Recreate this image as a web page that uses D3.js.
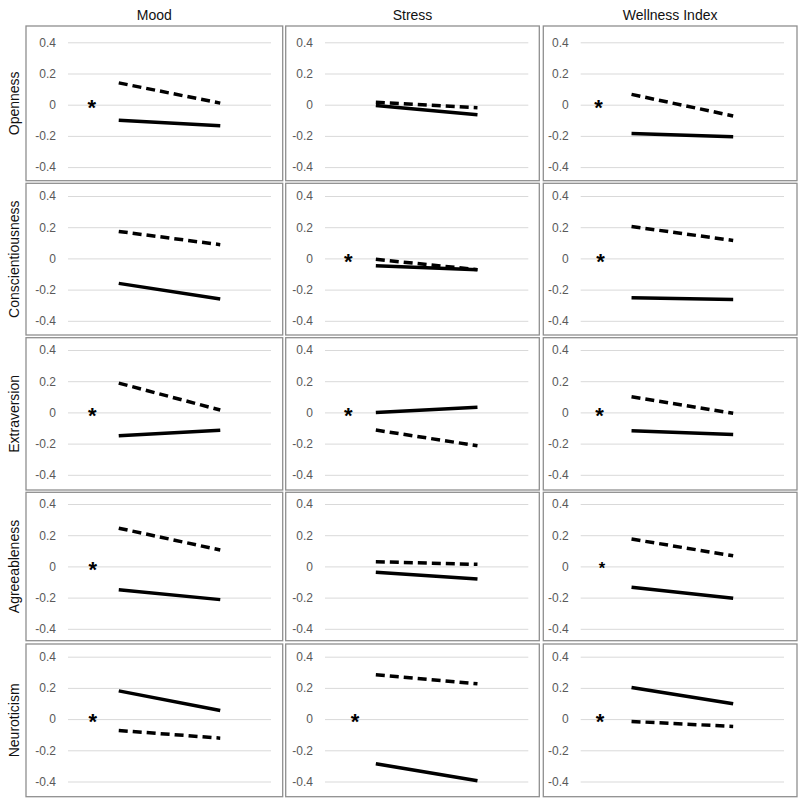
<!DOCTYPE html>
<html>
<head>
<meta charset="utf-8">
<script src="https://cdn.jsdelivr.net/npm/d3@7"></script>
<style>
  html, body { margin: 0; padding: 0; background: #fff; }
  svg { display: block; font-family: Arial, "Liberation Sans", sans-serif; }
</style>
</head>
<body>
<svg id="chart" width="800" height="798"></svg>
<script>
// ---- data ----
const outcomes = ["Mood", "Stress", "Wellness Index"];
const traits = ["Openness", "Conscientiousness", "Extraversion", "Agreeableness", "Neuroticism"];
const yTickValues = [0.4, 0.2, 0, -0.2, -0.4];
const yTickLabels = ["0.4", "0.2", "0", "-0.2", "-0.4"];
const xCategories = [1, 3]; // low, high moderator level

// solid line [start, end] per trait (rows) x outcome (cols)
const solidSeries = [
  [[-0.10, -0.135], [-0.005, -0.065], [-0.185, -0.205]],
  [[-0.16, -0.26],  [-0.047, -0.072], [-0.253, -0.264]],
  [[-0.15, -0.115], [0.00, 0.033],    [-0.118, -0.141]],
  [[-0.15, -0.213], [-0.038, -0.081], [-0.134, -0.204]],
  [[0.181, 0.055],  [-0.286, -0.395], [0.202, 0.098]]
];
// dashed line [start, end]
const dashedSeries = [
  [[0.14, 0.01],    [0.015, -0.02],   [0.066, -0.072]],
  [[0.173, 0.088],  [-0.006, -0.072], [0.204, 0.115]],
  [[0.188, 0.015],  [-0.113, -0.214], [0.10, -0.006]],
  [[0.245, 0.105],  [0.03, 0.013],    [0.175, 0.068]],
  [[-0.073, -0.122],[0.284, 0.226],   [-0.015, -0.047]]
];
// significance markers: [row, col, x position, size]
const sigMarks = [
  [0, 0, 0.47, 1], [0, 2, 0.35, 1],
  [1, 1, 0.46, 1], [1, 2, 0.39, 1],
  [2, 0, 0.48, 1], [2, 1, 0.46, 1], [2, 2, 0.37, 1],
  [3, 0, 0.49, 1], [3, 2, 0.42, 0.75],
  [4, 0, 0.49, 1], [4, 1, 0.59, 1], [4, 2, 0.38, 1]
];

// ---- layout ----
const colLeft = [26, 285.7, 543.3];
const colRight = [282.7, 539.3, 797];
const gridX0 = [68, 325, 580.7];
const gridX1 = [271, 528.3, 784];
const rowTop = [26, 183.3, 337.7, 492.3, 644];
const rowBottom = [180.7, 335, 490, 640.7, 796.7];
const gridTop = [42.3, 196, 350, 504, 656.7];
const gridSpan = 124.8;

const svg = d3.select("#chart");

// column titles
outcomes.forEach((o, c) => {
  svg.append("text")
    .attr("x", (colLeft[c] + colRight[c]) / 2)
    .attr("y", 20)
    .attr("text-anchor", "middle")
    .attr("font-size", 14)
    .attr("fill", "#111")
    .text(o);
});
// row titles
traits.forEach((t, r) => {
  const cy = (rowTop[r] + rowBottom[r]) / 2;
  svg.append("text")
    .attr("transform", `translate(18.5,${cy}) rotate(-90)`)
    .attr("text-anchor", "middle")
    .attr("font-size", 14)
    .attr("fill", "#111")
    .text(t);
});

traits.forEach((t, r) => {
  outcomes.forEach((o, c) => {
    const x = d3.scaleLinear().domain([0, 4]).range([gridX0[c], gridX1[c]]);
    const y = d3.scaleLinear().domain([-0.4, 0.4]).range([gridTop[r] + gridSpan, gridTop[r]]);
    const g = svg.append("g");

    // panel border
    g.append("rect")
      .attr("x", colLeft[c]).attr("y", rowTop[r])
      .attr("width", colRight[c] - colLeft[c])
      .attr("height", rowBottom[r] - rowTop[r])
      .attr("fill", "none").attr("stroke", "#8f8f8f").attr("stroke-width", 1.3);

    // y axis with gridlines
    const axis = d3.axisLeft(y)
      .tickValues(yTickValues)
      .tickFormat((d, i) => yTickLabels[i])
      .tickSize(-(gridX1[c] - gridX0[c]))
      .tickPadding(12);
    const ag = g.append("g")
      .attr("transform", `translate(${gridX0[c]},0)`)
      .call(axis);
    ag.select(".domain").remove();
    ag.selectAll(".tick line").attr("stroke", "#d9d9d9").attr("stroke-width", 1);
    ag.selectAll(".tick text")
      .attr("fill", "#595959")
      .attr("font-size", 12)
      .attr("font-family", "Arial, 'Liberation Sans', sans-serif");

    const line = d3.line().x(d => x(d[0])).y(d => y(d[1]));

    const sv = solidSeries[r][c];
    g.append("path")
      .datum(xCategories.map((xc, i) => [xc, sv[i]]))
      .attr("d", line)
      .attr("fill", "none").attr("stroke", "#000").attr("stroke-width", 3.5);

    const dv = dashedSeries[r][c];
    g.append("path")
      .datum(xCategories.map((xc, i) => [xc, dv[i]]))
      .attr("d", line)
      .attr("fill", "none").attr("stroke", "#000").attr("stroke-width", 3.5)
      .attr("stroke-dasharray", "9,5");
  });
});

// significance asterisks
sigMarks.forEach(([r, c, xv, sz]) => {
  const x = d3.scaleLinear().domain([0, 4]).range([gridX0[c], gridX1[c]]);
  const y = d3.scaleLinear().domain([-0.4, 0.4]).range([gridTop[r] + gridSpan, gridTop[r]]);
  const fs = 22 * sz;
  svg.append("text")
    .attr("x", x(xv))
    .attr("y", y(0) + fs * 0.47)
    .attr("text-anchor", "middle")
    .attr("font-size", fs)
    .attr("font-weight", "bold")
    .attr("fill", "#000")
    .text("*");
});
</script>
</body>
</html>
